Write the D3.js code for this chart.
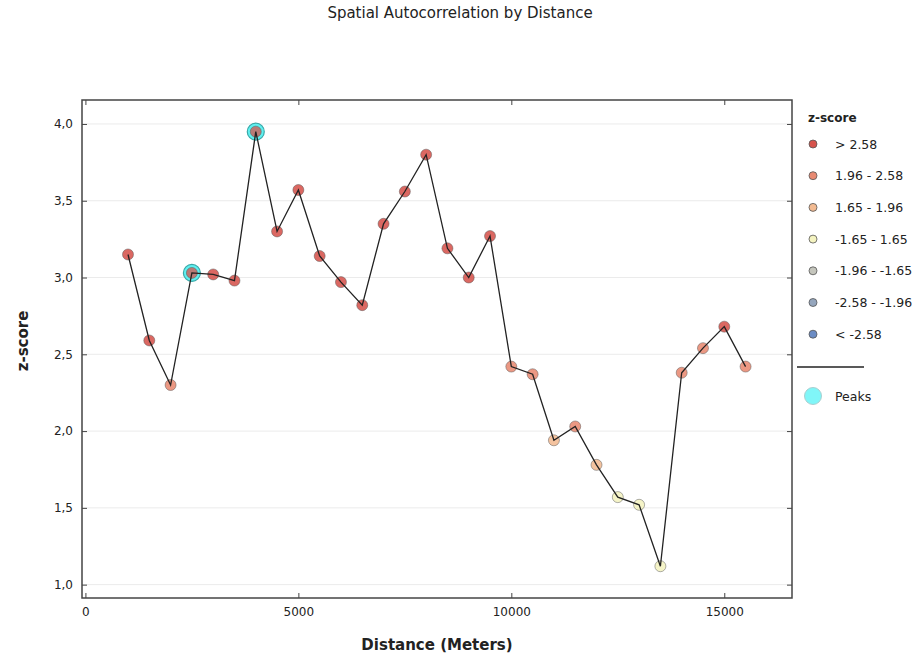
<!DOCTYPE html>
<html>
<head>
<meta charset="utf-8">
<script src="https://cdn.jsdelivr.net/npm/d3@7"></script>
<style>
  body { margin: 0; background: #fff; }
  text { font-family: "DejaVu Sans", sans-serif; fill: #222; }
</style>
</head>
<body>
<div id="chart"></div>
<script>
const width = 913, height = 655;

// distances (m) and z-scores
var distances = [1000, 1500, 2000, 2500, 3000, 3500, 4000, 4500, 5000, 5500,
                 6000, 6500, 7000, 7500, 8000, 8500, 9000, 9500, 10000, 10500,
                 11000, 11500, 12000, 12500, 13000, 13500, 14000, 14500, 15000, 15500];
var zscores = [3.15, 2.59, 2.30, 3.03, 3.02, 2.98, 3.95, 3.30, 3.57, 3.14,
               2.97, 2.82, 3.35, 3.56, 3.80, 3.19, 3.00, 3.27, 2.42, 2.37,
               1.94, 2.03, 1.78, 1.57, 1.52, 1.12, 2.38, 2.54, 2.68, 2.42];
var peaks = [2500, 4000];

var xTicks = [0, 5000, 10000, 15000];
var yTicks = [1.0, 1.5, 2.0, 2.5, 3.0, 3.5, 4.0];

var classLabels = ["> 2.58", "1.96 - 2.58", "1.65 - 1.96", "-1.65 - 1.65",
                   "-1.96 - -1.65", "-2.58 - -1.96", "< -2.58"];
var classColors = ["#d6534c", "#e88a72", "#f3bb92", "#f4f3c0",
                   "#c5c6bd", "#95a6bd", "#6b8cc4"];
var classBreaks = [2.58, 1.96, 1.65, -1.65, -1.96, -2.58];

function classOf(z) {
    for (var i = 0; i < classBreaks.length; i++) {
        if (z > classBreaks[i]) return i;
    }
    return classBreaks.length;
}

var data = distances.map((d, i) => ({ x: d, z: zscores[i] }));

var margin = { left: 82, top: 100, right: 121, bottom: 57 };

var svg = d3.select("#chart").append("svg")
    .attr("width", width)
    .attr("height", height);

var x = d3.scaleLinear()
    .domain([-80, 16590])
    .range([margin.left, width - margin.right]);

var y = d3.scaleLinear()
    .domain([0.913, 4.156])
    .range([height - margin.bottom, margin.top]);

// grid
svg.append("g")
    .selectAll("line")
    .data(yTicks)
    .join("line")
    .attr("x1", margin.left)
    .attr("x2", width - margin.right)
    .attr("y1", d => y(d))
    .attr("y2", d => y(d))
    .attr("stroke", "#ebebeb")
    .attr("stroke-width", 1);

var fmt = d => d.toFixed(1).replace(".", ",");

// axes, ticks pointing inward
svg.append("g")
    .attr("transform", "translate(0," + (height - margin.bottom) + ")")
    .call(d3.axisBottom(x).tickValues(xTicks).tickSize(-5).tickPadding(9).tickFormat(d3.format("d")))
    .call(g => g.select(".domain").remove());

svg.append("g")
    .attr("transform", "translate(0," + margin.top + ")")
    .call(d3.axisTop(x).tickValues(xTicks).tickSize(-5).tickFormat(""))
    .call(g => g.select(".domain").remove());

svg.append("g")
    .attr("transform", "translate(" + margin.left + ",0)")
    .call(d3.axisLeft(y).tickValues(yTicks).tickSize(-5).tickPadding(9).tickFormat(fmt))
    .call(g => g.select(".domain").remove());

svg.append("g")
    .attr("transform", "translate(" + (width - margin.right) + ",0)")
    .call(d3.axisRight(y).tickValues(yTicks).tickSize(-5).tickFormat(""))
    .call(g => g.select(".domain").remove());

svg.selectAll(".tick line").attr("stroke", "#444");
svg.selectAll(".tick text").style("font-size", "12px").attr("fill", "#222");

// frame
svg.append("rect")
    .attr("x", margin.left)
    .attr("y", margin.top)
    .attr("width", width - margin.left - margin.right)
    .attr("height", height - margin.top - margin.bottom)
    .attr("fill", "none")
    .attr("stroke", "#444")
    .attr("stroke-width", 1.5);

// peaks
svg.append("g")
    .selectAll("circle")
    .data(data.filter(d => peaks.indexOf(d.x) >= 0))
    .join("circle")
    .attr("cx", d => x(d.x))
    .attr("cy", d => y(d.z))
    .attr("r", 8.5)
    .attr("fill", "#5ff0f0")
    .attr("stroke", "#3aa8a8")
    .attr("stroke-width", 1.2);

// points
svg.append("g")
    .selectAll("circle")
    .data(data)
    .join("circle")
    .attr("cx", d => x(d.x))
    .attr("cy", d => y(d.z))
    .attr("r", 5.5)
    .attr("fill", d => classColors[classOf(d.z)])
    .attr("fill-opacity", d => peaks.indexOf(d.x) >= 0 ? 0.75 : 0.88)
    .attr("stroke", "#555")
    .attr("stroke-opacity", 0.6)
    .attr("stroke-width", 0.8);

// line
var line = d3.line().x(d => x(d.x)).y(d => y(d.z));
svg.append("path")
    .datum(data)
    .attr("d", line)
    .attr("fill", "none")
    .attr("stroke", "#222")
    .attr("stroke-width", 1.3);

// title and axis labels
svg.append("text")
    .attr("x", 460)
    .attr("y", 18)
    .attr("text-anchor", "middle")
    .style("font-size", "15px")
    .text("Spatial Autocorrelation by Distance");

svg.append("text")
    .attr("x", 437)
    .attr("y", 650)
    .attr("text-anchor", "middle")
    .style("font-size", "15px")
    .style("font-weight", "bold")
    .text("Distance (Meters)");

svg.append("text")
    .attr("transform", "translate(28,341) rotate(-90)")
    .attr("text-anchor", "middle")
    .style("font-size", "15px")
    .style("font-weight", "bold")
    .text("z-score");

// legend
var legend = svg.append("g");

legend.append("text")
    .attr("x", 808)
    .attr("y", 122)
    .style("font-size", "12px")
    .style("font-weight", "bold")
    .text("z-score");

var items = legend.selectAll("g.item")
    .data(classLabels)
    .join("g")
    .attr("class", "item")
    .attr("transform", (d, i) => "translate(0," + (144 + i * 31.7) + ")");

items.append("circle")
    .attr("cx", 813)
    .attr("cy", 0)
    .attr("r", 4)
    .attr("fill", (d, i) => classColors[i])
    .attr("stroke", "#555")
    .attr("stroke-width", 0.8);

items.append("text")
    .attr("x", 835)
    .attr("y", 4.5)
    .style("font-size", "12.5px")
    .text(d => d);

legend.append("line")
    .attr("x1", 797)
    .attr("x2", 864)
    .attr("y1", 367)
    .attr("y2", 367)
    .attr("stroke", "#222")
    .attr("stroke-width", 1.3);

legend.append("circle")
    .attr("cx", 813)
    .attr("cy", 396)
    .attr("r", 8.5)
    .attr("fill", "#80f6f8")
    .attr("stroke", "#aacfd0")
    .attr("stroke-width", 1);

legend.append("text")
    .attr("x", 835)
    .attr("y", 401)
    .style("font-size", "12.5px")
    .text("Peaks");
</script>
</body>
</html>
